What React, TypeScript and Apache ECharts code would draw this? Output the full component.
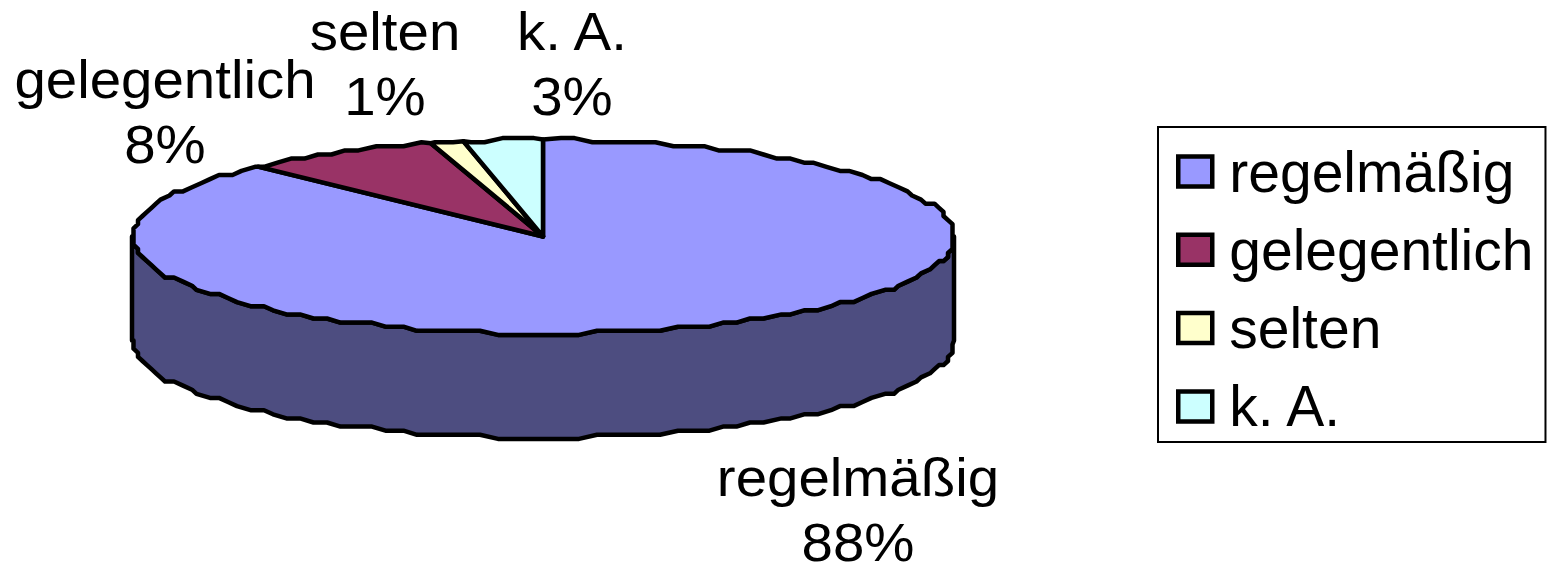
import React, { useEffect, useRef } from "react";
import * as echarts from "echarts";

const categories = ["regelmäßig", "gelegentlich", "selten", "k. A."];
const values = [87.8, 7.8, 1.3, 3.1];
const topColors = ["#9999FF", "#993366", "#FFFFCC", "#CCFFFF"];
const sideColors = ["#4D4D80", "#4D1A33", "#808066", "#668080"];
const labelCenters = [
  [858, 510],
  [165, 112],
  [385, 64],
  [572, 64],
];

const CX = 543;
const CY = 236.5;
const RX = 411;
const RY = 97;
const DEPTH = 104;
const GRID_X = 4.5;
const GRID_Y = 4.1;
const STEP = 2.3;
const FONT = "'Liberation Sans', Arial, sans-serif";

const total = values.reduce((a, b) => a + b, 0);

// Angle in degrees, clockwise from 12 o'clock
function rim(deg: number, dy = 0, snap = true): number[] {
  const t = (deg * Math.PI) / 180;
  const x = RX * Math.sin(t);
  const y = -RY * Math.cos(t);
  if (!snap) return [CX + x, CY + y + dy];
  return [CX + Math.round(x / GRID_X) * GRID_X, CY + Math.round(y / GRID_Y) * GRID_Y + dy];
}

function arc(from: number, to: number, dy = 0): number[][] {
  const pts: number[][] = [rim(from, dy, false)];
  const first = Math.ceil(from / STEP + 1e-6) * STEP;
  for (let a = first; a < to; a += STEP) pts.push(rim(a, dy));
  pts.push(rim(to, dy, false));
  return pts;
}

function sliceSpan(index: number): [number, number] {
  // The slices run counter-clockwise from 12 o'clock, last category first.
  let after = 0;
  for (let i = index + 1; i < values.length; i++) after += values[i];
  const end = 360 - (after / total) * 360;
  const start = end - (values[index] / total) * 360;
  return [start, end];
}

function makeRenderItem(index: number) {
  return () => {
    const [start, end] = sliceSpan(index);
    const children: any[] = [];
    const stroke = { stroke: "#000", lineWidth: 4.5, lineJoin: "round" };

    const frontFrom = Math.max(start, 90);
    const frontTo = Math.min(end, 270);
    if (frontTo > frontFrom) {
      const upper = arc(frontFrom, frontTo, 0);
      const lower = arc(frontFrom, frontTo, DEPTH).reverse();
      children.push({
        type: "polygon",
        shape: { points: upper.concat(lower) },
        style: { fill: sideColors[index], ...stroke },
      });
    }

    children.push({
      type: "polygon",
      shape: { points: [[CX, CY], ...arc(start, end, 0)] },
      style: { fill: topColors[index], ...stroke },
    });

    const [lx, ly] = labelCenters[index];
    children.push({
      type: "text",
      x: lx,
      y: ly,
      scaleX: 1.065,
      z2: 10,
      style: {
        text: `${categories[index]}\n${Math.round((values[index] / total) * 100)}%`,
        font: `53px ${FONT}`,
        fill: "#000",
        align: "center",
        verticalAlign: "middle",
        lineHeight: 65,
      },
    });

    return { type: "group", children };
  };
}

export default function App() {
  const ref = useRef<HTMLDivElement>(null);
  useEffect(() => {
    document.body.style.margin = "0";
    const chart = echarts.init(ref.current!, undefined, { renderer: "svg", width: 1550, height: 563 });
    chart.setOption({
      animation: false,
      backgroundColor: "#fff",
      tooltip: { show: false },
      legend: {
        show: true,
        orient: "vertical",
        left: 1158,
        top: 127,
        padding: [16, 12, 7, 18],
        itemGap: 21.3,
        itemWidth: 34,
        itemHeight: 30,
        borderColor: "#000",
        borderWidth: 2,
        selectedMode: false,
        icon: "rect",
        data: categories,
        itemStyle: { borderColor: "#000", borderWidth: 4.5 },
        formatter: "{t|{name}}",
        textStyle: {
          rich: {
            t: { fontFamily: FONT, fontSize: 57, color: "#000", padding: [0, 0, 0, 12], height: 57, lineHeight: 57 },
          },
        },
      },
      series: categories.map((name, i) => ({
        type: "custom",
        name,
        coordinateSystem: "none",
        silent: true,
        clip: false,
        itemStyle: { color: topColors[i] },
        renderItem: makeRenderItem(i),
        data: [[values[i]]],
      })),
    });
    return () => chart.dispose();
  }, []);
  return <div ref={ref} style={{ width: 1550, height: 563 }} />;
}
